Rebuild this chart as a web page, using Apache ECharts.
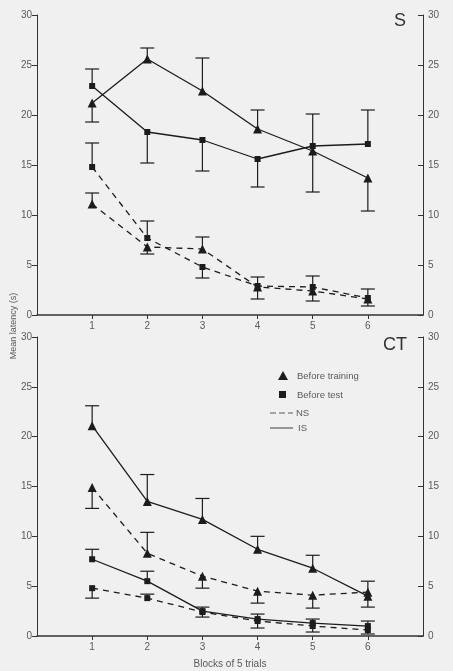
<!DOCTYPE html>
<html>
<head>
<meta charset="utf-8">
<script src="https://cdn.jsdelivr.net/npm/echarts@6/dist/echarts.min.js"></script>
<style>
  html, body { margin: 0; padding: 0; background: #f0f0f0; }
  #main { width: 453px; height: 671px; }
</style>
</head>
<body>
<div id="main"></div>
<script>
// 横轴: 5次试验为一组
const blocks = [1, 2, 3, 4, 5, 6]

// S 组 (上图)，Err 为误差线端点值
const sIsTrain = [21.2, 25.6, 22.4, 18.6, 16.4, 13.7]
const sIsTrainErr = [19.3, 26.7, 25.7, 20.5, 12.3, 10.4]
const sIsTest = [22.9, 18.3, 17.5, 15.6, 16.9, 17.1]
const sIsTestErr = [24.6, 15.2, 14.4, 12.8, 20.1, 20.5]
const sNsTrain = [11.1, 6.8, 6.6, 2.8, 2.4, 1.6]
const sNsTrainErr = [12.2, 6.1, 7.8, 1.6, 1.4, 0.9]
const sNsTest = [14.8, 7.7, 4.8, 2.9, 2.8, 1.7]
const sNsTestErr = [17.2, 9.4, 3.7, 3.8, 3.9, 2.6]

// CT 组 (下图)
const ctIsTrain = [21.1, 13.5, 11.7, 8.7, 6.8, 4.0]
const ctIsTrainErr = [23.1, 16.2, 13.8, 10.0, 8.1, 5.5]
const ctIsTest = [7.7, 5.5, 2.5, 1.7, 1.3, 1.0]
const ctIsTestErr = [8.7, 6.5, 2.9, 2.2, 1.7, 1.5]
const ctNsTrain = [14.9, 8.3, 6.0, 4.5, 4.1, 4.4]
const ctNsTrainErr = [12.8, 10.4, 4.8, 3.3, 2.8, 2.9]
const ctNsTest = [4.8, 3.8, 2.4, 1.5, 1.0, 0.6]
const ctNsTestErr = [3.8, 4.2, 1.9, 0.8, 0.4, 0.2]

const ink = '#1c1c1c'
const grey = '#5a5a5a'
const font = 'Liberation Sans'

const chart = echarts.init(document.getElementById('main'), null, { renderer: 'canvas' })

function xAxisOf(i, withName) {
  return {
    gridIndex: i,
    type: 'value',
    min: 0,
    max: 7,
    interval: 1,
    name: withName ? 'Blocks of 5 trials' : '',
    nameLocation: 'middle',
    nameGap: 23,
    nameTextStyle: { color: grey, fontSize: 10, fontFamily: font },
    axisLine: { lineStyle: { color: '#333', width: 1.5 } },
    axisTick: { customValues: blocks, length: 4, lineStyle: { color: '#333' } },
    axisLabel: { customValues: blocks, color: grey, fontSize: 10, fontFamily: font, margin: 6 },
    splitLine: { show: false }
  }
}

function yAxisOf(i, pos) {
  return {
    gridIndex: i,
    type: 'value',
    position: pos,
    min: 0,
    max: 30,
    interval: 5,
    axisLine: { show: true, lineStyle: { color: '#333', width: 1 } },
    axisTick: { show: true, inside: pos === 'right', length: 5, lineStyle: { color: '#333' } },
    axisLabel: { color: grey, fontSize: 10, fontFamily: font, margin: 5 },
    splitLine: { show: false }
  }
}

function lineSeries(name, vals, axis, symbol, dashed) {
  return {
    name: name,
    type: 'line',
    xAxisIndex: axis,
    yAxisIndex: axis * 2,
    data: blocks.map((b, i) => [b, vals[i]]),
    symbol: symbol,
    symbolSize: symbol === 'triangle' ? 9 : 6,
    itemStyle: { color: ink },
    lineStyle: { color: ink, width: 1.3, type: dashed ? [6, 5] : 'solid' },
    z: 3
  }
}

// 单边误差线
function errSeries(vals, ends, axis) {
  return {
    type: 'custom',
    xAxisIndex: axis,
    yAxisIndex: axis * 2,
    data: blocks.map((b, i) => [b, vals[i], ends[i]]),
    renderItem: function (params, api) {
      const p0 = api.coord([api.value(0), api.value(1)])
      const p1 = api.coord([api.value(0), api.value(2)])
      const st = { stroke: ink, lineWidth: 1.2 }
      return {
        type: 'group',
        children: [
          { type: 'line', shape: { x1: p0[0], y1: p0[1], x2: p1[0], y2: p1[1] }, style: st },
          { type: 'line', shape: { x1: p1[0] - 7, y1: p1[1], x2: p1[0] + 7, y2: p1[1] }, style: st }
        ]
      }
    },
    z: 2
  }
}

let option = {
  backgroundColor: '#f0f0f0',
  animation: false,
  grid: [
    { left: 37, right: 30, top: 15, height: 300 },
    { left: 37, right: 30, top: 337, height: 299 }
  ],
  xAxis: [xAxisOf(0, false), xAxisOf(1, true)],
  yAxis: [yAxisOf(0, 'left'), yAxisOf(0, 'right'), yAxisOf(1, 'left'), yAxisOf(1, 'right')],
  series: [
    errSeries(sIsTrain, sIsTrainErr, 0),
    errSeries(sIsTest, sIsTestErr, 0),
    errSeries(sNsTrain, sNsTrainErr, 0),
    errSeries(sNsTest, sNsTestErr, 0),
    lineSeries('S IS before training', sIsTrain, 0, 'triangle', false),
    lineSeries('S IS before test', sIsTest, 0, 'rect', false),
    lineSeries('S NS before training', sNsTrain, 0, 'triangle', true),
    lineSeries('S NS before test', sNsTest, 0, 'rect', true),

    errSeries(ctIsTrain, ctIsTrainErr, 1),
    errSeries(ctIsTest, ctIsTestErr, 1),
    errSeries(ctNsTrain, ctNsTrainErr, 1),
    errSeries(ctNsTest, ctNsTestErr, 1),
    lineSeries('CT IS before training', ctIsTrain, 1, 'triangle', false),
    lineSeries('CT IS before test', ctIsTest, 1, 'rect', false),
    lineSeries('CT NS before training', ctNsTrain, 1, 'triangle', true),
    lineSeries('CT NS before test', ctNsTest, 1, 'rect', true)
  ],
  graphic: [
    { type: 'text', x: 14, y: 326, rotation: Math.PI / 2,
      style: { text: 'Mean latency (s)', fill: grey, font: '9px ' + font, align: 'center', verticalAlign: 'middle' } },
    { type: 'text', x: 400, y: 21,
      style: { text: 'S', fill: '#333', font: '18px ' + font, align: 'center', verticalAlign: 'middle' } },
    { type: 'text', x: 395, y: 345,
      style: { text: 'CT', fill: '#333', font: '18px ' + font, align: 'center', verticalAlign: 'middle' } },
    // 图例
    { type: 'polygon', shape: { points: [[283, 371], [278, 380], [288, 380]] }, style: { fill: ink } },
    { type: 'text', x: 297, y: 376,
      style: { text: 'Before training', fill: grey, font: '9.5px ' + font, verticalAlign: 'middle' } },
    { type: 'rect', shape: { x: 279, y: 391, width: 7, height: 7 }, style: { fill: ink } },
    { type: 'text', x: 297, y: 395,
      style: { text: 'Before test', fill: grey, font: '9.5px ' + font, verticalAlign: 'middle' } },
    { type: 'line', shape: { x1: 270, y1: 413, x2: 293, y2: 413 }, style: { stroke: grey, lineWidth: 1.2, lineDash: [6, 3] } },
    { type: 'text', x: 296, y: 413,
      style: { text: 'NS', fill: grey, font: '9.5px ' + font, verticalAlign: 'middle' } },
    { type: 'line', shape: { x1: 270, y1: 428, x2: 293, y2: 428 }, style: { stroke: grey, lineWidth: 1.2 } },
    { type: 'text', x: 298, y: 428,
      style: { text: 'IS', fill: grey, font: '9.5px ' + font, verticalAlign: 'middle' } }
  ]
}

chart.setOption(option)
</script>
</body>
</html>
